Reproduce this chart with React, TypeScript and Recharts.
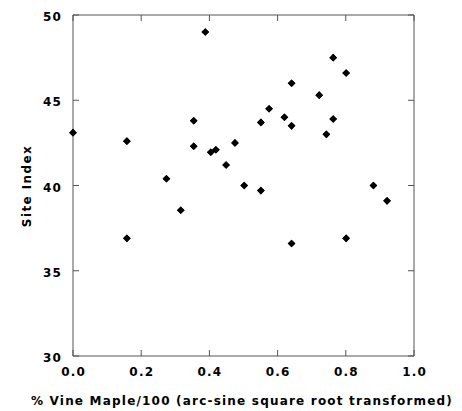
import React from 'react';
import { ScatterChart, Scatter, XAxis, YAxis } from 'recharts';

const vineMaple = [
  0.0, 0.158, 0.158, 0.274, 0.316, 0.354, 0.354, 0.388, 0.404, 0.419,
  0.449, 0.475, 0.502, 0.551, 0.551, 0.575, 0.62, 0.641, 0.641, 0.641,
  0.722, 0.743, 0.763, 0.763, 0.801, 0.801, 0.881, 0.921,
];
const siteIndex = [
  43.1, 42.6, 36.9, 40.4, 38.55, 43.8, 42.3, 49.0, 41.95, 42.1,
  41.2, 42.5, 40.0, 43.7, 39.7, 44.5, 44.0, 46.0, 43.5, 36.6,
  45.3, 43.0, 47.5, 43.9, 46.6, 36.9, 40.0, 39.1,
];
const xTicks = [0, 0.2, 0.4, 0.6, 0.8, 1.0];
const yTicks = [30, 35, 40, 45, 50];
const xTitle = '% Vine Maple/100 (arc-sine square root transformed)';
const yTitle = 'Site Index';

const data = vineMaple.map((x, i) => ({ x, y: siteIndex[i] }));

const axisColor = '#555';
const fontFamily = '"DejaVu Sans", Arial, sans-serif';
const TICK_LEN = 6;

const textStyle = {
  fill: '#000',
  fontSize: 12,
  fontWeight: 'bold' as const,
  fontFamily,
};

const BottomTick = (props: any) => {
  const { x, y, payload } = props;
  return (
    <g>
      <line x1={x} y1={y} x2={x} y2={y - TICK_LEN} stroke={axisColor} strokeWidth={1} />
      <text x={x + 0.6} y={y + 20} textAnchor="middle" letterSpacing={1.2} style={textStyle}>
        {Number(payload.value).toFixed(1)}
      </text>
    </g>
  );
};

const LeftTick = (props: any) => {
  const { x, y, payload } = props;
  return (
    <g>
      <line x1={x} y1={y} x2={x + TICK_LEN} y2={y} stroke={axisColor} strokeWidth={1} />
      <text x={x - 11} y={y + 6} textAnchor="end" letterSpacing={1.2} style={textStyle}>
        {payload.value}
      </text>
    </g>
  );
};

const TopTick = (props: any) => {
  const { x, y } = props;
  return <line x1={x} y1={y} x2={x} y2={y + TICK_LEN} stroke={axisColor} strokeWidth={1} />;
};

const RightTick = (props: any) => {
  const { x, y } = props;
  return <line x1={x} y1={y} x2={x - TICK_LEN} y2={y} stroke={axisColor} strokeWidth={1} />;
};

const Diamond = (props: any) => {
  const { cx, cy } = props;
  const r = 3.8;
  return (
    <polygon
      points={`${cx},${cy - r} ${cx + r},${cy} ${cx},${cy + r} ${cx - r},${cy}`}
      fill="#000"
    />
  );
};

const titleCss: React.CSSProperties = {
  position: 'absolute',
  fontFamily,
  fontSize: 12,
  fontWeight: 'bold',
  lineHeight: '16px',
  height: 16,
  textAlign: 'center',
  color: '#000',
  whiteSpace: 'nowrap',
};

export default function App() {
  return (
    <div style={{ position: 'absolute', left: 0, top: 0, width: 462, height: 411, background: '#fff' }}>
      <ScatterChart
        width={462}
        height={411}
        margin={{ top: 0, right: 0, bottom: 0, left: 0 }}
      >
        <XAxis
          xAxisId="bottom"
          dataKey="x"
          type="number"
          domain={[0, 1]}
          ticks={xTicks}
          height={55}
          tickSize={0}
          tickMargin={0}
          tickLine={false}
          stroke={axisColor}
          tick={<BottomTick />}
        />
        <XAxis
          xAxisId="top"
          dataKey="x"
          type="number"
          domain={[0, 1]}
          ticks={xTicks}
          orientation="top"
          height={15}
          tickSize={0}
          tickMargin={0}
          tickLine={false}
          tick={<TopTick />}
          stroke={axisColor}
        />
        <YAxis
          yAxisId="left"
          dataKey="y"
          type="number"
          domain={[30, 50]}
          ticks={yTicks}
          width={73}
          tickSize={0}
          tickMargin={0}
          tickLine={false}
          stroke={axisColor}
          tick={<LeftTick />}
        />
        <YAxis
          yAxisId="right"
          dataKey="y"
          type="number"
          domain={[30, 50]}
          ticks={yTicks}
          orientation="right"
          width={48}
          tickSize={0}
          tickMargin={0}
          tickLine={false}
          tick={<RightTick />}
          stroke={axisColor}
        />
        <Scatter
          data={data}
          xAxisId="top"
          yAxisId="right"
          fill="#000"
          shape={<Diamond />}
          isAnimationActive={false}
        />
        <Scatter
          data={data}
          xAxisId="bottom"
          yAxisId="left"
          shape={<Diamond />}
          fill="#000"
          isAnimationActive={false}
        />
      </ScatterChart>
      <div style={{ ...titleCss, left: 11, top: 393, width: 462, letterSpacing: '1.2px' }}>{xTitle}</div>
      <div
        style={{
          ...titleCss,
          left: 26.5 - 60,
          top: 185.5 - 8,
          width: 120,
          letterSpacing: '1.4px',
          transform: 'rotate(-90deg)',
        }}
      >
        {yTitle}
      </div>
    </div>
  );
}
